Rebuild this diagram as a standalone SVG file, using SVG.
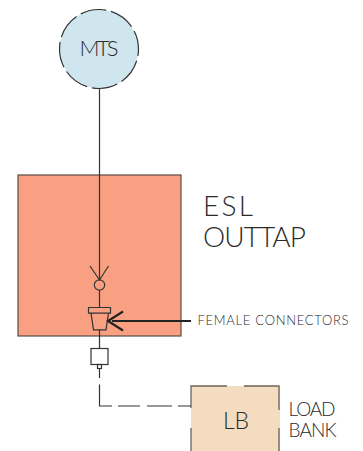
<svg xmlns="http://www.w3.org/2000/svg" width="363" height="451" viewBox="0 0 363 451">
<style>
.t{font-family:Lato,"Liberation Sans",sans-serif;font-weight:300;fill:#2b2b2b}
.l{fill:none;stroke:#333;stroke-width:1.2}
</style>
<rect width="363" height="451" fill="#fff"/>
<g id="esl-outtap">
<rect x="18" y="175" width="163" height="161" fill="#f9a083" stroke="#5a4a44" stroke-width="1.2"/>
<text class="t" x="203" y="216" font-size="28" textLength="50" lengthAdjust="spacing">ESL</text>
<text class="t" x="203" y="247" font-size="28" textLength="103" lengthAdjust="spacing">OUTTAP</text>
</g>
<g id="mts">
<circle cx="99" cy="49" r="39.5" fill="#cfe6ef"/>
<circle cx="99" cy="49" r="39.5" fill="none" stroke="#333" stroke-width="1.2" stroke-dasharray="26 5" stroke-dashoffset="19"/>
<text class="t" x="79.500" y="56" font-size="22" textLength="39" lengthAdjust="spacing">MTS</text>
</g>
<g id="load-bank">
<rect x="191" y="386" width="89" height="66" fill="#f4dcc0"/>
<path d="M191 451V428M191 408V386H227M244 386H279V410M279 428V451" fill="none" stroke="#6e625a" stroke-width="1.3"/>
<text class="t" x="223" y="428.500" font-size="23" textLength="26" lengthAdjust="spacing">LB</text>
<text class="t" x="288.500" y="416" font-size="19" textLength="47" lengthAdjust="spacing">LOAD</text>
<text class="t" x="288.500" y="437" font-size="19" textLength="48" lengthAdjust="spacing">BANK</text>
</g>
<g id="female-connectors">
<path class="l" d="M88.500 307.500H110.500V313.200H88.500ZM91 313.200L93.500 329.800H106L108.500 313.200Z"/>
<text class="t" x="197.500" y="325" font-size="13" textLength="151" lengthAdjust="spacing">FEMALE CONNECTORS</text>
</g>
<g id="socket">
<circle class="l" cx="99.500" cy="285" r="5.200"/>
<path class="l" d="M90 266L99.500 280L108.500 266"/>
</g>
<g id="plug">
<rect class="l" x="91" y="348.500" width="17" height="16" fill="#fff"/>
<rect class="l" x="97.500" y="364.500" width="4" height="4"/>
</g>
<g id="connectors">
<path class="l" d="M99.500 88V280M99.500 290V307.500M99.500 329.500V348.500M99.500 368.500V378M99.500 384.500V406H112M118 406H140M147 406H172M178 406H191"/>
<path d="M112 321H191" fill="none" stroke="#222" stroke-width="2"/>
<path d="M123 311.500L108 321L123 330.500" fill="none" stroke="#222" stroke-width="2.200"/>
</g>
</svg>
